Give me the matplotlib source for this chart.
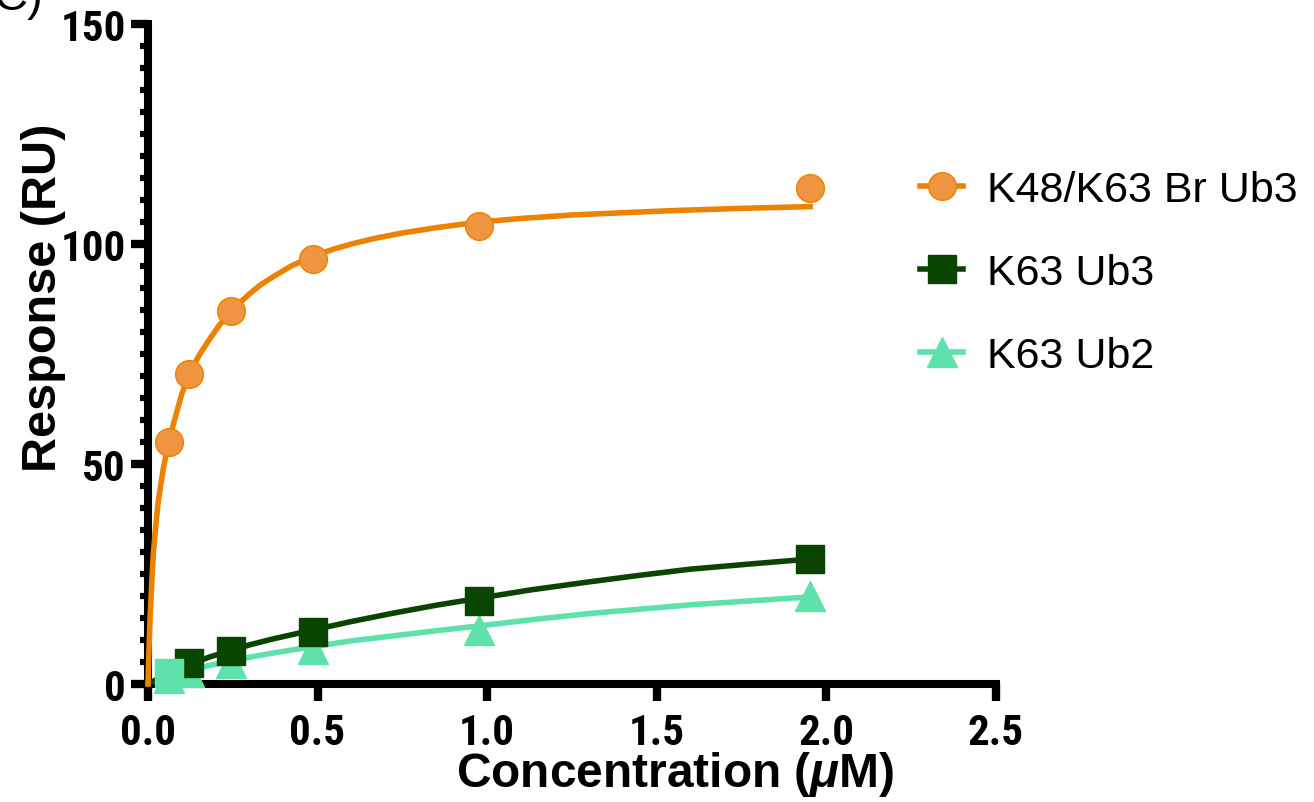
import matplotlib
matplotlib.use('Agg')
from matplotlib import pyplot as plt
from matplotlib.ticker import MultipleLocator
from matplotlib.lines import Line2D

# measured points (concentration in uM, response in RU)
conc = [0.061, 0.122, 0.244, 0.488, 0.977, 1.953]
br_ub3 = [55.0, 70.5, 84.8, 96.5, 104.0, 112.8]
k63_ub3 = [2.5, 4.8, 7.5, 11.9, 18.9, 28.4]
k63_ub2 = [1.3, 2.7, 4.8, 8.0, 12.3, 20.0]

# fitted curves
fit_x_br = [0, 0.002, 0.006, 0.011, 0.016, 0.023, 0.030, 0.045, 0.061, 0.08, 0.10,
            0.122, 0.15, 0.18, 0.21, 0.244, 0.27, 0.30, 0.33, 0.37, 0.42, 0.488,
            0.55, 0.6, 0.67, 0.75, 0.85, 0.977, 1.1, 1.25, 1.4, 1.55, 1.75, 1.953]
fit_y_br = [0, 5.5, 14.8, 23.0, 30.0, 36.0, 41.4, 48.9, 55.0, 60.5, 66.0,
            70.5, 74.6, 78.2, 81.5, 84.5, 86.6, 88.7, 90.6, 92.6, 94.9, 97.3,
            98.9, 100.0, 101.3, 102.5, 103.7, 105.0, 105.8, 106.6, 107.1, 107.6, 108.1, 108.5]
fit_x_g = [0, 0.03, 0.061, 0.09, 0.122, 0.18, 0.244, 0.30, 0.366, 0.43, 0.488, 0.6,
           0.73, 0.85, 0.977, 1.13, 1.3, 1.45, 1.6, 1.78, 1.953]
fit_y_ub3 = [0, 1.2, 2.3, 3.4, 4.4, 6.1, 7.6, 8.9, 10.2, 11.3, 12.3, 14.2,
             16.2, 17.9, 19.5, 21.4, 23.2, 24.7, 26.1, 27.3, 28.4]
fit_y_ub2 = [0, 0.8, 1.5, 2.3, 3.0, 4.2, 5.2, 6.1, 7.0, 7.8, 8.5, 9.8,
             11.0, 12.1, 13.2, 14.6, 16.0, 17.0, 18.0, 18.9, 19.8]

labels = ['K48/K63 Br Ub3', 'K63 Ub3', 'K63 Ub2']
x_ticks = [0.0, 0.5, 1.0, 1.5, 2.0, 2.5]
x_tick_labels = ['0.0', '0.5', '1.0', '1.5', '2.0', '2.5']
y_ticks = [0, 50, 100, 150]
y_tick_labels = ['0', '50', '100', '150']

orange = '#EB8200'
orange_face = '#EF9440'
dark = '#0A4500'
light = '#5EE1AA'

bold_font = ['Liberation Sans', 'DejaVu Sans']
narrow_font = ['Roboto Condensed', 'Liberation Sans', 'DejaVu Sans']

plt.rcParams['mathtext.fontset'] = 'custom'
plt.rcParams['mathtext.it'] = 'Liberation Sans:italic:bold'
plt.rcParams['mathtext.rm'] = 'Liberation Sans:bold'

fig = plt.figure(figsize=(13.14, 8.03), dpi=100)
ax = fig.add_axes([148 / 1314, 1 - 685 / 803, (995.5 - 148) / 1314, 660 / 803])

ax.plot(fit_x_g, fit_y_ub2, color=light, lw=4, zorder=2, clip_on=False)
ax.plot(conc, k63_ub2, ls='none', marker='^', ms=21, mfc=light, mec=light,
        zorder=3, clip_on=False)
ax.plot(fit_x_g, fit_y_ub3, color=dark, lw=4, zorder=4, clip_on=False)
ax.plot(conc[1:], k63_ub3[1:], ls='none', marker='s', ms=20, mfc=dark, mec=dark,
        zorder=5, clip_on=False)
ax.plot(conc[:1], k63_ub3[:1], ls='none', marker='s', ms=20, mfc=light, mec=light,
        zorder=5, clip_on=False)
ax.plot(fit_x_br, fit_y_br, color=orange, lw=4, zorder=6, clip_on=False)
ax.plot(conc, br_ub3, ls='none', marker='o', ms=20, mfc=orange_face, mec=orange,
        mew=1, zorder=7, clip_on=False)

ax.set_xlim(0, 2.5)
ax.set_ylim(0, 150)
ax.set_xticks(x_ticks, x_tick_labels)
ax.set_yticks(y_ticks, y_tick_labels)
ax.yaxis.set_minor_locator(MultipleLocator(5))

for side in ['top', 'right']:
    ax.spines[side].set_visible(False)
for side in ['left', 'bottom']:
    ax.spines[side].set_linewidth(5.8)
    ax.spines[side].set_capstyle('projecting')

ax.tick_params(axis='both', which='major', length=12, width=6, pad=4, labelsize=31)
ax.tick_params(axis='y', which='minor', length=6, width=4.5)
ax.tick_params(axis='x', which='major', pad=8)
for lab in ax.get_xticklabels() + ax.get_yticklabels():
    lab.set_fontfamily(narrow_font)
    lab.set_fontweight('bold')

fig.text(675 / 1314, 1 - 775 / 803, r'Concentration ($\mu$M)', ha='center', va='center',
         fontsize=34.5, fontweight='bold', family=bold_font)
fig.text(44 / 1314, 1 - 298 / 803, 'Response (RU)', ha='center', va='center',
         rotation=90, fontsize=35, fontweight='bold', family=bold_font)
fig.text(-6 / 1314, 1 - 10 / 803, 'C)', ha='left', va='baseline',
         fontsize=34, family=bold_font)

handles = [
    Line2D([], [], color=orange, lw=4, marker='o', ms=20, mfc=orange_face, mec=orange),
    Line2D([], [], color=dark, lw=4, marker='s', ms=20, mfc=dark, mec=dark),
    Line2D([], [], color=light, lw=4, marker='^', ms=21, mfc=light, mec=light),
]
fig.legend(handles, labels, loc='center left', bbox_to_anchor=(920 / 1314, 1 - 274 / 803),
           frameon=False, prop={'family': bold_font, 'size': 31},
           handlelength=1.0, handletextpad=0.55, labelspacing=1.0, borderpad=0,
           borderaxespad=0)

fig.savefig('out.png', dpi=100)
